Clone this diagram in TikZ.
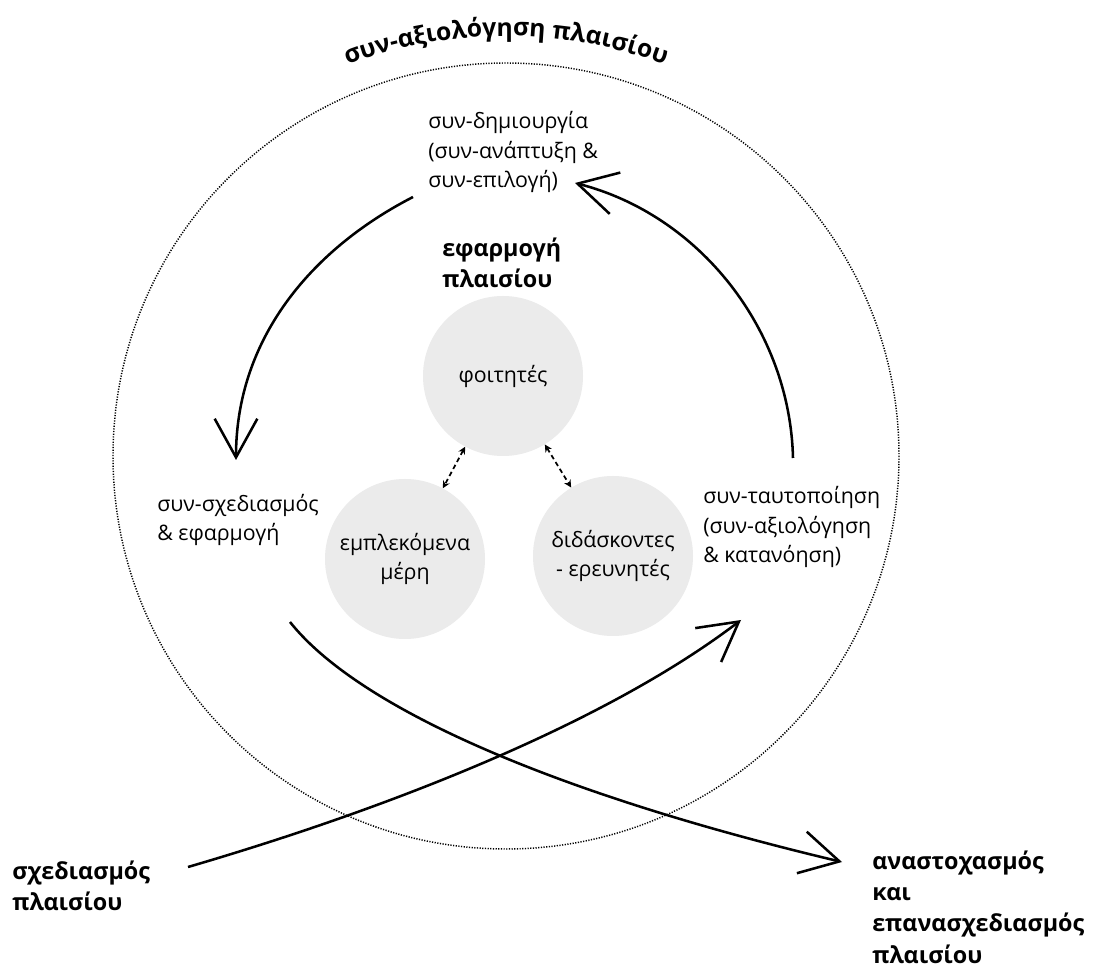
\documentclass[tikz,border=0pt]{standalone}
\usepackage{fontspec}
\setmainfont{Open Sans}
\usetikzlibrary{arrows.meta,decorations.text}
\definecolor{actorgray}{RGB}{235,235,235}

\tikzset{
  stage/.style={anchor=west, align=left, inner sep=0pt, font=\fontsize{16}{22}\selectfont},
  phase/.style={anchor=west, align=left, inner sep=0pt, font=\bfseries\fontsize{17.5}{23.5}\selectfont},
  actor/.style={circle, fill=actorgray, minimum size=120pt, inner sep=0pt, align=center, font=\fontsize{16}{22}\selectfont},
  flow/.style={line width=1.9pt, -{Straight Barb[length=29pt,width=32pt,line width=1.9pt]}},
  link/.style={line width=1.3pt, dash pattern=on 3.5pt off 2.5pt, {Stealth[length=5.5pt,width=5.5pt]}-{Stealth[length=5.5pt,width=5.5pt]}},
  ring/.style={line width=1.1pt, dash pattern=on 0.9pt off 1.1pt},
}

\begin{document}
\begin{tikzpicture}[x=0.75pt, y=-0.75pt]
    \fill[white] (0,0) rectangle (1111,969);
    \useasboundingbox (0,0) rectangle (1111,969);
    % outer ring and its title along the top
    \draw[ring] (506,456) circle[radius=393];
    \path[decorate, decoration={text along path, text align=center,
        text={|\bfseries\fontsize{18.5}{20}\selectfont|συν-αξιολόγηση πλαισίου}}]
        (506,486) ++(225:450) arc[start angle=225, end angle=315, radius=450];

    % the three actors
    \node[actor] (students) at (503,376) {φοιτητές};
    \node[actor] (stake) at (405,559) {εμπλεκόμενα\\μέρη};
    \node[actor] (teachers) at (613,556) {διδάσκοντες\\- ερευνητές};
    \draw[link] (students) -- (stake);
    \draw[link] (students) -- (teachers);

    % stage labels
    \node[stage] (cocreate) at (428,152) {συν-δημιουργία\\(συν-ανάπτυξη \&\\συν-επιλογή)};
    \node[phase] (apply) at (442,263) {εφαρμογή\\πλαισίου};
    \node[stage] (codesign) at (157,520) {συν-σχεδιασμός\\\& εφαρμογή};
    \node[stage] (coident) at (703,527) {συν-ταυτοποίηση\\(συν-αξιολόγηση\\\& κατανόηση)};
    \node[phase] (design) at (12,886) {σχεδιασμός\\πλαισίου};
    \node[phase] (reflect) at (872,907) {αναστοχασμός\\και\\επανασχεδιασμός\\πλαισίου};

    % ends of the big arrows
    \coordinate (tl-a) at (413,197);
    \coordinate (tl-b) at (236,460);
    \coordinate (tr-a) at (793,458);
    \coordinate (tr-b) at (575,183);
    \coordinate (x1-a) at (290,622);
    \coordinate (x1-b) at (842,862);
    \coordinate (x2-a) at (188,867);
    \coordinate (x2-b) at (741,620);

    \draw[flow] (tl-a) .. controls (310,250) and (236,340) .. (tl-b);
    \draw[flow] (tr-a) .. controls (790,330) and (700,215) .. (tr-b);
    \draw[flow] (x1-a) .. controls (360,710) and (560,795) .. (x1-b);
    \draw[flow] (x2-a) .. controls (400,805) and (610,720) .. (x2-b);
\end{tikzpicture}
\end{document}
